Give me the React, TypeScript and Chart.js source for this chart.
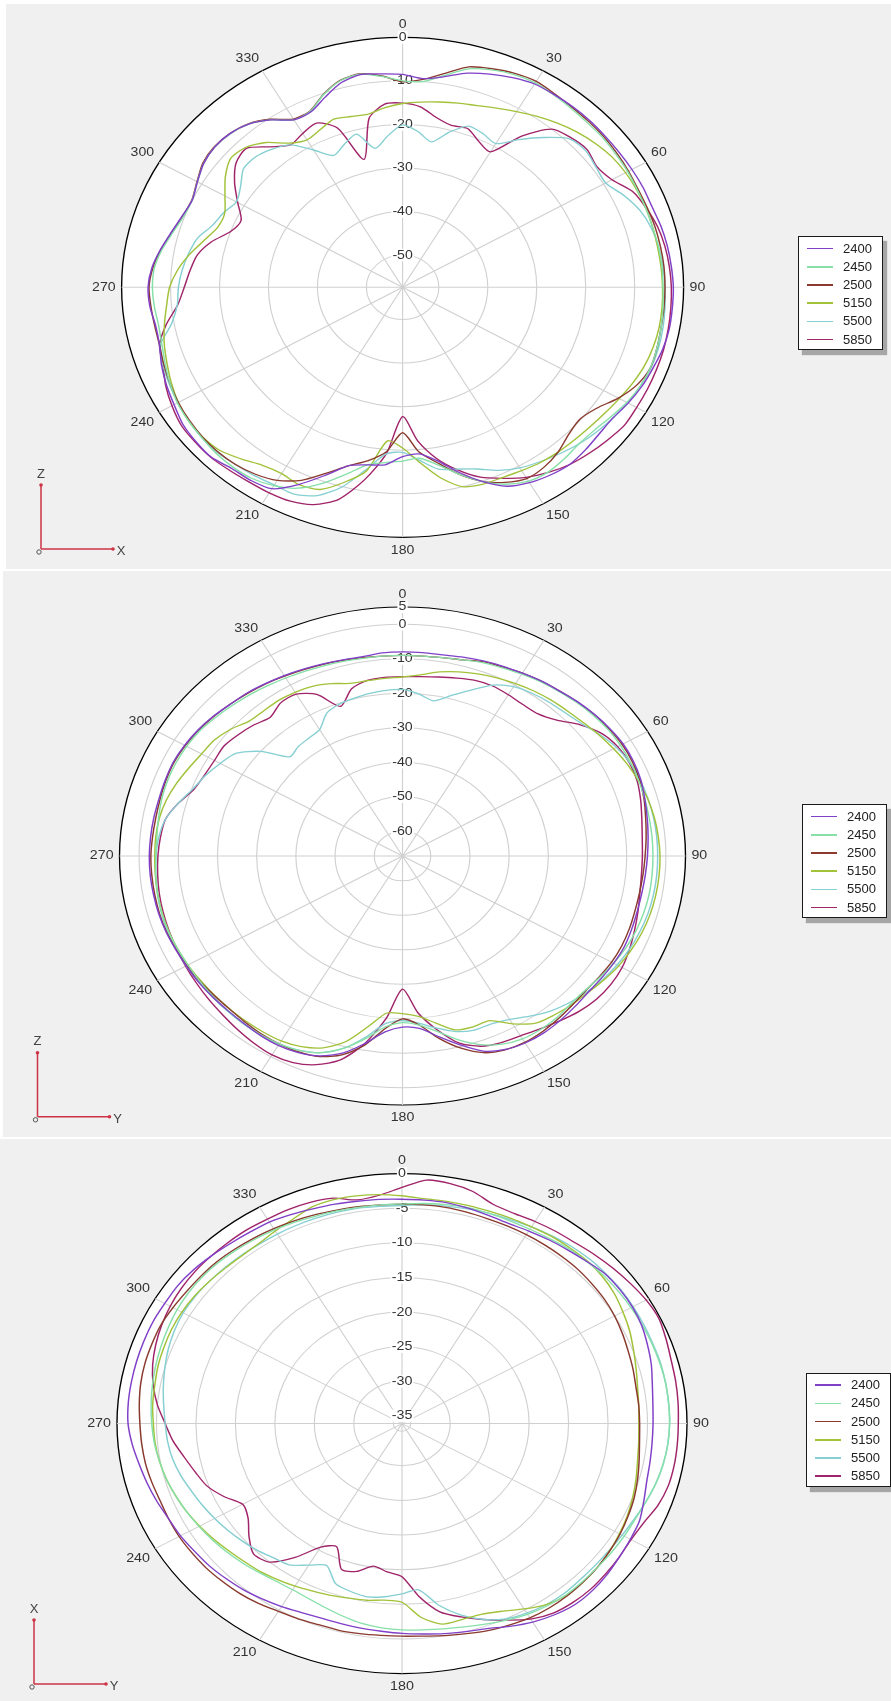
import React, { useEffect, useRef } from 'react';
import { Chart, registerables } from 'chart.js';

Chart.register(...registerables);

const FONT_FAMILY = '"Liberation Sans", Arial, Helvetica, sans-serif';

const ANGLE_LABELS = [
  '0', '5', '10', '15', '20', '25', '30', '35', '40', '45', '50', '55',
  '60', '65', '70', '75', '80', '85', '90', '95', '100', '105', '110', '115',
  '120', '125', '130', '135', '140', '145', '150', '155', '160', '165', '170', '175',
  '180', '185', '190', '195', '200', '205', '210', '215', '220', '225', '230', '235',
  '240', '245', '250', '255', '260', '265', '270', '275', '280', '285', '290', '295',
  '300', '305', '310', '315', '320', '325', '330', '335', '340', '345', '350', '355',
];

const SERIES_NAMES = ['2400', '2450', '2500', '5150', '5500', '5850'];
const SERIES_COLORS = ['#8040c8', '#86e0a8', '#8a3a2e', '#a2c23a', '#86cfd2', '#a0246a'];

// ---- Panel 1 : Z-X plane (dB, every 5 degrees from 0 to 355) ----
const zx2400 = [
  -8.5, -9.3, -8.3, -6.5, -5.3, -4.3, -3.5, -3.4, -3.3, -3.3, -3.4, -3.4,
  -3.3, -3.2, -3.2, -2.8, -2.5, -2.3, -2.1, -2.1, -2.1, -2.4, -3.0, -3.5,
  -4.2, -5.0, -5.0, -4.6, -4.3, -4.8, -5.6, -7.0, -10, -13.5, -17, -19,
  -18.5, -16.5, -16, -15, -11.5, -7.5, -4, -3.3, -3.1, -2.2, -2.3, -2.6,
  -3.5, -4.2, -5, -6, -6.2, -5.6, -5.4, -6, -7.2, -8.5, -9.5, -10,
  -9, -7.8, -7.3, -7.5, -8.5, -10.5, -13, -13, -11, -8.8, -7.8, -8.2,
];
const zx2450 = [
  -10, -10, -8, -5.5, -4.3, -3.5, -3.2, -3.5, -3.8, -4, -4, -4.2,
  -4.3, -4.5, -4.5, -4.5, -4.3, -4.2, -4.2, -4, -3.8, -3.6, -3.5, -3.8,
  -4.5, -5.5, -6.3, -6.5, -6, -5.6, -6, -7.5, -10, -13, -16, -18,
  -17.5, -17, -16, -13, -9.5, -6.5, -4.8, -3.8, -3.5, -3.5, -3.8, -4,
  -4.3, -5, -5.8, -6.5, -6.8, -6.5, -6.3, -6.5, -7.5, -8.8, -9.8, -10,
  -9, -7.8, -7.3, -7.6, -8.5, -10.5, -13, -12.8, -10.3, -8.3, -7.7, -8.8,
];
const zx2500 = [
  -10.2, -9.5, -7.5, -5, -4, -3.2, -2.8, -3.2, -3.5, -3.6, -3.7, -3.9,
  -4.1, -4.3, -4.2, -4, -3.9, -3.8, -3.8, -3.8, -3.8, -3.6, -3.5, -4.5,
  -6.5, -9, -10.2, -9.5, -8, -7, -6.7, -8, -10, -13, -16.5, -19.5,
  -24, -19.5, -17, -15, -12, -8.5, -6.2, -5, -4.3, -4, -4, -4.2,
  -4.5, -5, -5.5, -6, -6, -5.8, -5.6, -6.2, -7.3, -8.6, -9.6, -9.9,
  -8.9, -7.6, -7.2, -7.5, -8.4, -10.3, -12.8, -12.7, -10.2, -8.2, -7.6, -8.7,
];
const zx5150 = [
  -15.2, -14.7, -14.2, -13.6, -13, -12, -10.8, -9.5, -8.2, -7, -6, -5.2,
  -4.8, -4.6, -4.5, -4.5, -4.5, -4.4, -4.3, -4.2, -4.2, -4.4, -4.8, -5.5,
  -6.3, -7, -7.5, -7.8, -8, -8.3, -8.8, -9.2, -9.3, -10, -13, -17,
  -20.5, -22, -14.5, -11, -8, -7.4, -8, -7.5, -6, -4.5, -4, -4,
  -4.5, -5.3, -6.2, -7, -8, -9, -9.8, -11.3, -13.3, -15.5, -17.2, -17.3,
  -15.5, -13.2, -11.5, -12, -14, -17, -18.3, -17.5, -16.3, -16.8, -17, -16,
];
const zx5500 = [
  -20.1, -21.5, -23.5, -20.5, -18, -18.5, -19.3, -16, -12.5, -9.2, -8.6, -9.2,
  -9.5, -7.5, -5.8, -4.8, -4.3, -4, -3.8, -3.6, -3.4, -3.3, -3.4, -3.8,
  -4.3, -5, -5.7, -6.5, -7.5, -8.5, -9.5, -11, -13, -14.2, -15, -17.5,
  -19.5, -19, -15, -10, -6.5, -5, -5, -4.6, -4.3, -3.8, -3.8, -4,
  -4.4, -4.8, -5.3, -6.2, -9.5, -11.2, -11.6, -12.2, -13, -14, -16, -17,
  -18.2, -17, -15, -15, -16, -17.5, -21, -24, -22.5, -21, -25, -22.5,
];
const zx5850 = [
  -15.1, -15.8, -17.8, -18.9, -18.6, -20.5, -21.5, -15, -10, -8.8, -8.2, -9,
  -8, -5.5, -4.4, -3.5, -3, -2.7, -2.5, -2.4, -2.3, -2.2, -2.2, -2.2,
  -2.2, -2.1, -2.8, -3.5, -4.3, -5.5, -7, -9, -11, -14, -17.5, -22,
  -27.7, -19, -12.5, -7, -4.3, -3.2, -2.9, -2.8, -2.5, -2.1, -2.1, -2.2,
  -3, -4, -5.3, -6, -8.4, -11.3, -12.8, -13.8, -14.8, -17, -20, -21,
  -18.5, -15.5, -13, -12.3, -15.3, -17.5, -16.6, -15.8, -18.5, -27, -18, -15.2,
];

// ---- Panel 2 : Z-Y plane ----
const zy2400 = [
  -8, -8, -8, -7.5, -7, -6.5, -6, -5.3, -4.8, -4, -3.3, -2.7,
  -2.2, -2.2, -2.5, -3.2, -3.8, -4.3, -4.7, -5, -5.2, -5.2, -5, -4.8,
  -5, -5.3, -5.5, -5.2, -4.8, -4.5, -4.6, -5.3, -7, -10.5, -14, -17,
  -17.6, -16, -12, -8, -5.5, -4.3, -3.8, -3.8, -4, -4, -3.8, -3.6,
  -3.5, -3.3, -3, -2.8, -2.7, -2.6, -2.6, -2.7, -2.8, -2.9, -2.8, -2.7,
  -3, -3.5, -4.2, -5, -5.5, -6.2, -6.8, -7.4, -7.9, -8.3, -8.5, -8.1,
];
const zy2450 = [
  -9, -9, -8.8, -8.3, -7.5, -7, -6.3, -5.6, -5, -4.3, -3.7, -3.2,
  -3, -3, -3.1, -3.2, -3.3, -3.3, -3.3, -3.3, -3.3, -3.5, -3.8, -4.3,
  -5, -5.8, -6.5, -6.5, -6, -5.8, -6, -7, -9, -12, -15.5, -18,
  -18.9, -17.5, -13.5, -9.5, -6.5, -5, -4.3, -4, -4, -4, -4, -4,
  -4, -3.8, -3.6, -3.6, -3.8, -4, -4.3, -4.3, -4, -3.6, -3.4, -3.4,
  -3.6, -4, -4.8, -5.6, -6.3, -7, -7.6, -8.1, -8.5, -8.8, -9, -9,
];
const zy2500 = [
  -9, -9, -8.8, -8.3, -7.2, -6.7, -6, -5.4, -4.8, -4.1, -3.4, -2.9,
  -2.5, -2.5, -2.8, -3.4, -4.2, -4.8, -5.3, -5.6, -5.8, -5.8, -5.6, -5.5,
  -5.6, -6, -6.3, -6, -5.5, -5, -4.8, -5.2, -6.5, -9.5, -13.5, -18,
  -20, -17, -11.5, -7.5, -5.3, -4.5, -4.3, -4.3, -4.5, -4.6, -4.4, -4,
  -3.7, -3.4, -3.1, -3, -3, -3, -3, -3.2, -3.3, -3.2, -3, -2.9,
  -3.2, -3.7, -4.3, -5, -5.7, -6.3, -7, -7.6, -8.1, -8.5, -8.8, -9,
];
const zy5150 = [
  -15.3, -14.5, -13, -11.9, -11, -10.2, -9.5, -8.8, -8.2, -7.7, -7, -6,
  -5, -4, -3.2, -2.5, -2, -1.7, -1.5, -1.5, -1.6, -1.8, -2.2, -2.8,
  -3.5, -4.5, -5.5, -6.2, -7, -8, -11, -14.5, -14.5, -15, -18, -20.5,
  -21.5, -21.5, -17, -11.5, -8, -6.2, -5.3, -5, -4.8, -4.7, -4.5, -4.3,
  -4, -3.8, -3.7, -3.7, -3.8, -3.9, -4, -4, -4.2, -4.8, -5.8, -7,
  -8, -8.6, -10, -11.9, -12.2, -12.1, -12.4, -12.9, -14, -15.4, -15.6, -15.5,
];
const zy5500 = [
  -18.9, -20, -21.5, -19, -16, -12.5, -10.5, -9.6, -9, -8.5, -7.5, -5.8,
  -4.2, -3.2, -2.7, -2.4, -2.2, -2.1, -2.1, -2.1, -2.2, -2.4, -2.8, -3.3,
  -4, -4.8, -5.8, -7, -8.5, -10.5, -12.5, -13.5, -13.5, -14.5, -16.5, -18.5,
  -19.5, -18.5, -14, -9.5, -6.5, -5, -4.2, -3.9, -3.8, -3.8, -3.8, -3.7,
  -3.5, -3.4, -3.4, -3.5, -3.7, -4, -4.3, -4.8, -5.8, -8, -10.3, -11.8,
  -13.5, -15.3, -20, -26.5, -25.8, -25.5, -24.9, -21.5, -20.3, -19.8, -19.3, -19,
];
const zy5850 = [
  -15.2, -15, -14.5, -13.8, -13, -12.8, -13.2, -13.6, -13.4, -11.5, -8, -5.2,
  -3.8, -3.3, -3.5, -4.3, -5.2, -5.8, -6, -6, -5.7, -5, -4.2, -3.3,
  -2.5, -2.3, -2.6, -3.5, -4.8, -6, -7, -7.5, -8.5, -11, -16, -21.5,
  -28.6, -20, -12, -6, -2.8, -1.1, -0.6, -1, -1.6, -2.2, -2.6, -3,
  -3.3, -3.6, -3.8, -4, -4.2, -4.5, -4.8, -5.2, -5.8, -8, -10.6, -11.5,
  -11.8, -11.6, -12.5, -13.5, -14.7, -13, -13, -15.5, -21, -17, -15.5, -15.2,
];

// ---- Panel 3 : X-Y plane ----
const xy2400 = [
  -3.7, -3.7, -3.7, -3.9, -4.1, -4.2, -4, -3.7, -3.4, -3, -2.5, -2.4,
  -2.4, -2.6, -3, -3.4, -3.9, -4.2, -4.3, -4.3, -4.2, -4, -3.5, -2.9,
  -2.7, -2.5, -2.2, -2, -2, -2.4, -3, -3.8, -4.6, -5, -5.3, -5.6,
  -5.8, -6, -6.1, -6.2, -6.2, -6, -5.6, -5.2, -4.8, -4.5, -4.2, -4,
  -3.7, -3.5, -3.1, -2.7, -2.3, -1.8, -1.4, -1.3, -1.3, -1.3, -1.3, -1.3,
  -1.4, -1.4, -1.6, -1.9, -2.2, -2.4, -2.5, -2.8, -3.1, -3.3, -3.5, -3.6,
];
const xy2450 = [
  -4.4, -4.2, -4, -3.8, -3.8, -3.8, -3.7, -3.5, -3.2, -3, -2.8, -2.7,
  -2.6, -2.5, -2.4, -2.3, -2.2, -2.2, -2.2, -2.3, -2.5, -2.8, -3.2, -3.5,
  -3.6, -3.7, -3.8, -3.8, -3.8, -4, -4.3, -4.8, -5.3, -5.7, -6, -6.2,
  -6.3, -6.5, -6.8, -7.3, -7.8, -8.2, -8.4, -8.3, -8, -7.6, -7.2, -6.8,
  -6.4, -6, -5.6, -5.2, -4.9, -4.6, -4.4, -4.2, -4, -3.8, -3.6, -3.4,
  -3.2, -3.1, -3.1, -3.2, -3.4, -3.6, -3.8, -4, -4.2, -4.3, -4.4, -4.4,
];
const xy2500 = [
  -4.4, -4.4, -4.4, -4.5, -4.6, -4.6, -4.6, -4.6, -4.6, -4.6, -4.7, -4.8,
  -5, -5.3, -5.6, -5.8, -6, -6, -6, -5.9, -5.6, -5.2, -4.8, -4.5,
  -4.2, -4, -3.8, -3.7, -3.6, -3.6, -3.7, -4, -4.3, -4.7, -5, -5.3,
  -5.4, -5.4, -5.3, -5.2, -5.2, -5, -4.8, -4.4, -4.1, -3.9, -3.7, -3.6,
  -3.5, -3.5, -3.5, -3.3, -3.1, -3, -2.9, -2.7, -2.5, -2.4, -2.4, -2.4,
  -2.6, -2.8, -2.9, -3, -3.2, -3.4, -3.6, -3.8, -4, -4.2, -4.3, -4.4,
];
const xy5150 = [
  -3.2, -3.5, -3.5, -3.5, -3.5, -3.4, -3.3, -3.1, -3, -2.9, -3, -3.3,
  -3.8, -4.3, -4.9, -5.4, -5.8, -6, -6.1, -6, -5.8, -5.4, -5, -4.6,
  -4.3, -4, -3.8, -3.7, -3.7, -4.2, -5.2, -6.2, -6.8, -6.8, -6.7, -8,
  -10.3, -10.5, -10.2, -10, -9.7, -9.4, -9, -8.6, -8.2, -7.9, -7.5, -7,
  -6.5, -6, -5.6, -5.2, -4.9, -4.7, -4.6, -4.4, -4.3, -4.1, -4, -3.9,
  -3.9, -4, -4.2, -4.4, -4.5, -4.4, -4, -3.5, -2.8, -2.6, -2.7, -2.9,
];
const xy5500 = [
  -4.6, -4.4, -4.2, -4, -3.8, -3.6, -3.3, -3, -2.7, -2.5, -2.4, -2.3,
  -2.3, -2.3, -2.3, -2.2, -2.2, -2.2, -2.2, -2.3, -2.5, -2.8, -3.2, -3.6,
  -3.9, -4.1, -4.2, -4.2, -4.1, -4.2, -4.5, -5, -6, -7.5, -9.5, -12,
  -11.5, -11, -10.7, -11, -11.5, -13.5, -12.5, -11.2, -10.8, -10.2, -9.7, -9.2,
  -8.7, -8.2, -7.7, -7.1, -6.6, -6.3, -6.1, -5.8, -5.4, -5, -4.6, -4.3,
  -4.1, -4.1, -4.2, -4.3, -4.4, -4.5, -4.5, -4.5, -4.5, -4.5, -4.5, -4.6,
];
const xy5850 = [
  -2, -0.8, -0.9, -1.4, -2.4, -2.6, -2.4, -2.2, -2, -1.6, -1.2, -0.8,
  -0.4, -0.2, -0.5, -0.8, -0.9, -1, -1.1, -1.1, -1.1, -1.2, -1.6, -2.3,
  -2.6, -2.5, -2.4, -2.3, -2.4, -2.7, -3.5, -4.8, -6, -7.2, -8.5, -11,
  -14, -14.6, -15.2, -14, -13.7, -16.5, -15.5, -12.5, -10, -9.5, -10.8, -12.3,
  -12.8, -11.2, -9.8, -9, -8.1, -7, -6.1, -5, -4.1, -3.4, -2.9, -2.5,
  -2.2, -2, -1.9, -1.9, -1.9, -1.9, -2, -2, -2.1, -2.4, -3.3, -3,
];

// radial scale ranges (dB)
const ZX_RANGE = { min: -57.4, max: 0, step: 10 };
const ZY_RANGE = { min: -67.2, max: 5, step: 10 };
const XY_RANGE = { min: -36.1, max: 0, step: 5 };

const PANELS = [
  {
    top: 4, left: 6, height: 565,
    cx: 402.6, cy: 287.3, rx: 281, ry: 250,
    range: ZX_RANGE,
    series: [zx2400, zx2450, zx2500, zx5150, zx5500, zx5850],
    legendLeft: 798, legendTop: 236,
    corner: [41, 549], vLabel: 'Z', hLabel: 'X',
  },
  {
    top: 571, left: 3, height: 566,
    cx: 402.5, cy: 856, rx: 283, ry: 249,
    range: ZY_RANGE,
    series: [zy2400, zy2450, zy2500, zy5150, zy5500, zy5850],
    legendLeft: 802, legendTop: 804,
    corner: [37.5, 1116.8], vLabel: 'Z', hLabel: 'Y',
  },
  {
    top: 1139, left: 0, height: 562,
    cx: 402, cy: 1423.6, rx: 285, ry: 250,
    range: XY_RANGE,
    series: [xy2400, xy2450, xy2500, xy5150, xy5500, xy5850],
    legendLeft: 806, legendTop: 1372.6,
    corner: [34, 1684], vLabel: 'X', hLabel: 'Y',
  },
];

// Maps the circular radial scale onto the elliptical plot of the reference.
const ellipsePlugin = {
  id: 'ellipseMap',
  beforeDraw(chart: any, _args: any, opts: any) {
    const s = chart.scales.r;
    const ctx = chart.ctx;
    ctx.save();
    ctx.translate(opts.cx, opts.cy);
    ctx.scale(opts.rx / s.drawingArea, opts.ry / s.drawingArea);
    ctx.translate(-s.xCenter, -s.yCenter);
  },
  afterDraw(chart: any) {
    chart.ctx.restore();
  },
};

function PolarCanvas({ p }: { p: any }) {
  const ref = useRef<HTMLCanvasElement>(null);
  useEffect(() => {
    const canvas = ref.current;
    if (!canvas) return;
    const { min, max, step } = p.range;
    const pad = (p.height - 539) / 2;
    const chart = new Chart(canvas, {
      type: 'radar',
      data: {
        labels: ANGLE_LABELS,
        datasets: p.series.map((d: number[], i: number) => ({
          label: SERIES_NAMES[i],
          data: d,
          borderColor: SERIES_COLORS[i],
          backgroundColor: 'rgba(0,0,0,0)',
          borderWidth: 1.3,
          pointRadius: 0,
          pointHoverRadius: 0,
          pointHitRadius: 0,
          fill: false,
          tension: 0.25,
        })),
      },
      options: {
        responsive: false,
        animation: false,
        events: [],
        layout: { padding: { top: pad, bottom: pad, left: 0, right: 0 } },
        plugins: {
          legend: { display: false },
          tooltip: { enabled: false },
          ellipseMap: { cx: p.cx, cy: p.cy - p.top, rx: p.rx, ry: p.ry },
        },
        scales: {
          r: {
            min,
            max,
            beginAtZero: false,
            backgroundColor: '#ffffff',
            grid: {
              circular: true,
              color: (c: any) => {
                const v = c.tick ? c.tick.value : null;
                if (v === max) return '#000000';
                if (c.index === 0) return 'rgba(0,0,0,0)';
                return '#d0d0d0';
              },
              lineWidth: (c: any) => (c.tick && c.tick.value === max ? 1.2 : 1),
            },
            angleLines: {
              display: true,
              color: '#d0d0d0',
              lineWidth: (c: any) => (c.index % 6 === 0 ? 1 : 0),
            },
            pointLabels: {
              display: true,
              padding: -1,
              color: '#333333',
              font: { family: FONT_FAMILY, size: 12.5 },
              callback: (label: string, index: number) => (index % 6 === 0 ? label : ''),
            },
            ticks: {
              stepSize: step,
              color: '#333333',
              font: { family: FONT_FAMILY, size: 12.5 },
              showLabelBackdrop: true,
              backdropColor: (c: any) => (c.index === 0 ? 'rgba(0,0,0,0)' : '#ffffff'),
              backdropPadding: { x: 1, y: 0 },
              callback: (v: number) => (Math.abs(v - min) < 1e-6 ? '' : String(v)),
            },
          },
        },
      },
      plugins: [ellipsePlugin as any],
    } as any);
    return () => chart.destroy();
  }, [p]);
  return (
    <canvas
      ref={ref}
      width={891}
      height={p.height}
      style={{ position: 'absolute', left: 0, top: p.top, width: 891, height: p.height }}
    />
  );
}

function Legend({ left, top }: { left: number; top: number }) {
  return (
    <div
      style={{
        position: 'absolute', left, top, width: 85, height: 114,
        background: '#ffffff', border: '1px solid #1a1a1a', boxSizing: 'border-box',
        boxShadow: '4px 5px 1px #a6a6a6',
      }}
    >
      {SERIES_NAMES.map((name, i) => (
        <div key={name} style={{ position: 'absolute', left: 0, top: 11.6 + i * 18.2 - 9, width: 83, height: 18 }}>
          <div style={{ position: 'absolute', left: 8, top: 8.25, width: 26, height: 1.5, background: SERIES_COLORS[i] }} />
          <span
            style={{
              position: 'absolute', left: 44, top: 0, lineHeight: '18px', fontSize: 13,
              fontFamily: FONT_FAMILY, color: '#222222', whiteSpace: 'nowrap',
            }}
          >
            {name}
          </span>
        </div>
      ))}
    </div>
  );
}

function AxisIndicator({ corner, vLabel, hLabel }: { corner: number[]; vLabel: string; hLabel: string }) {
  const [x, y] = corner;
  const red = '#cc3344';
  return (
    <svg
      width={891}
      height={1701}
      style={{ position: 'absolute', left: 0, top: 0, overflow: 'visible', pointerEvents: 'none' }}
    >
      <line x1={x} y1={y} x2={x} y2={y - 64} stroke={red} strokeWidth={1.5} />
      <line x1={x} y1={y} x2={x + 72} y2={y} stroke={red} strokeWidth={1.5} />
      <circle cx={x} cy={y - 64} r={1.8} fill={red} />
      <circle cx={x + 72} cy={y} r={1.8} fill={red} />
      <circle cx={x - 2} cy={y + 3} r={2.2} fill="none" stroke="#555555" strokeWidth={1} />
      <text x={x} y={y - 76} fontSize={13} fontFamily={FONT_FAMILY} fill="#444444" textAnchor="middle" dominantBaseline="central">
        {vLabel}
      </text>
      <text x={x + 80} y={y + 1.5} fontSize={13} fontFamily={FONT_FAMILY} fill="#444444" textAnchor="middle" dominantBaseline="central">
        {hLabel}
      </text>
    </svg>
  );
}

export default function App() {
  return (
    <div style={{ position: 'relative', width: 891, height: 1701, background: '#ffffff', overflow: 'hidden' }}>
      <style>{'html,body{margin:0;padding:0;background:#ffffff;}'}</style>
      {PANELS.map((p, i) => (
        <div
          key={'bg' + i}
          style={{ position: 'absolute', left: p.left, top: p.top, width: 891 - p.left, height: p.height, background: '#f0f0f0' }}
        />
      ))}
      {PANELS.map((p, i) => (
        <PolarCanvas key={'c' + i} p={p} />
      ))}
      {PANELS.map((p, i) => (
        <Legend key={'l' + i} left={p.legendLeft} top={p.legendTop} />
      ))}
      {PANELS.map((p, i) => (
        <AxisIndicator key={'a' + i} corner={p.corner} vLabel={p.vLabel} hLabel={p.hLabel} />
      ))}
    </div>
  );
}
